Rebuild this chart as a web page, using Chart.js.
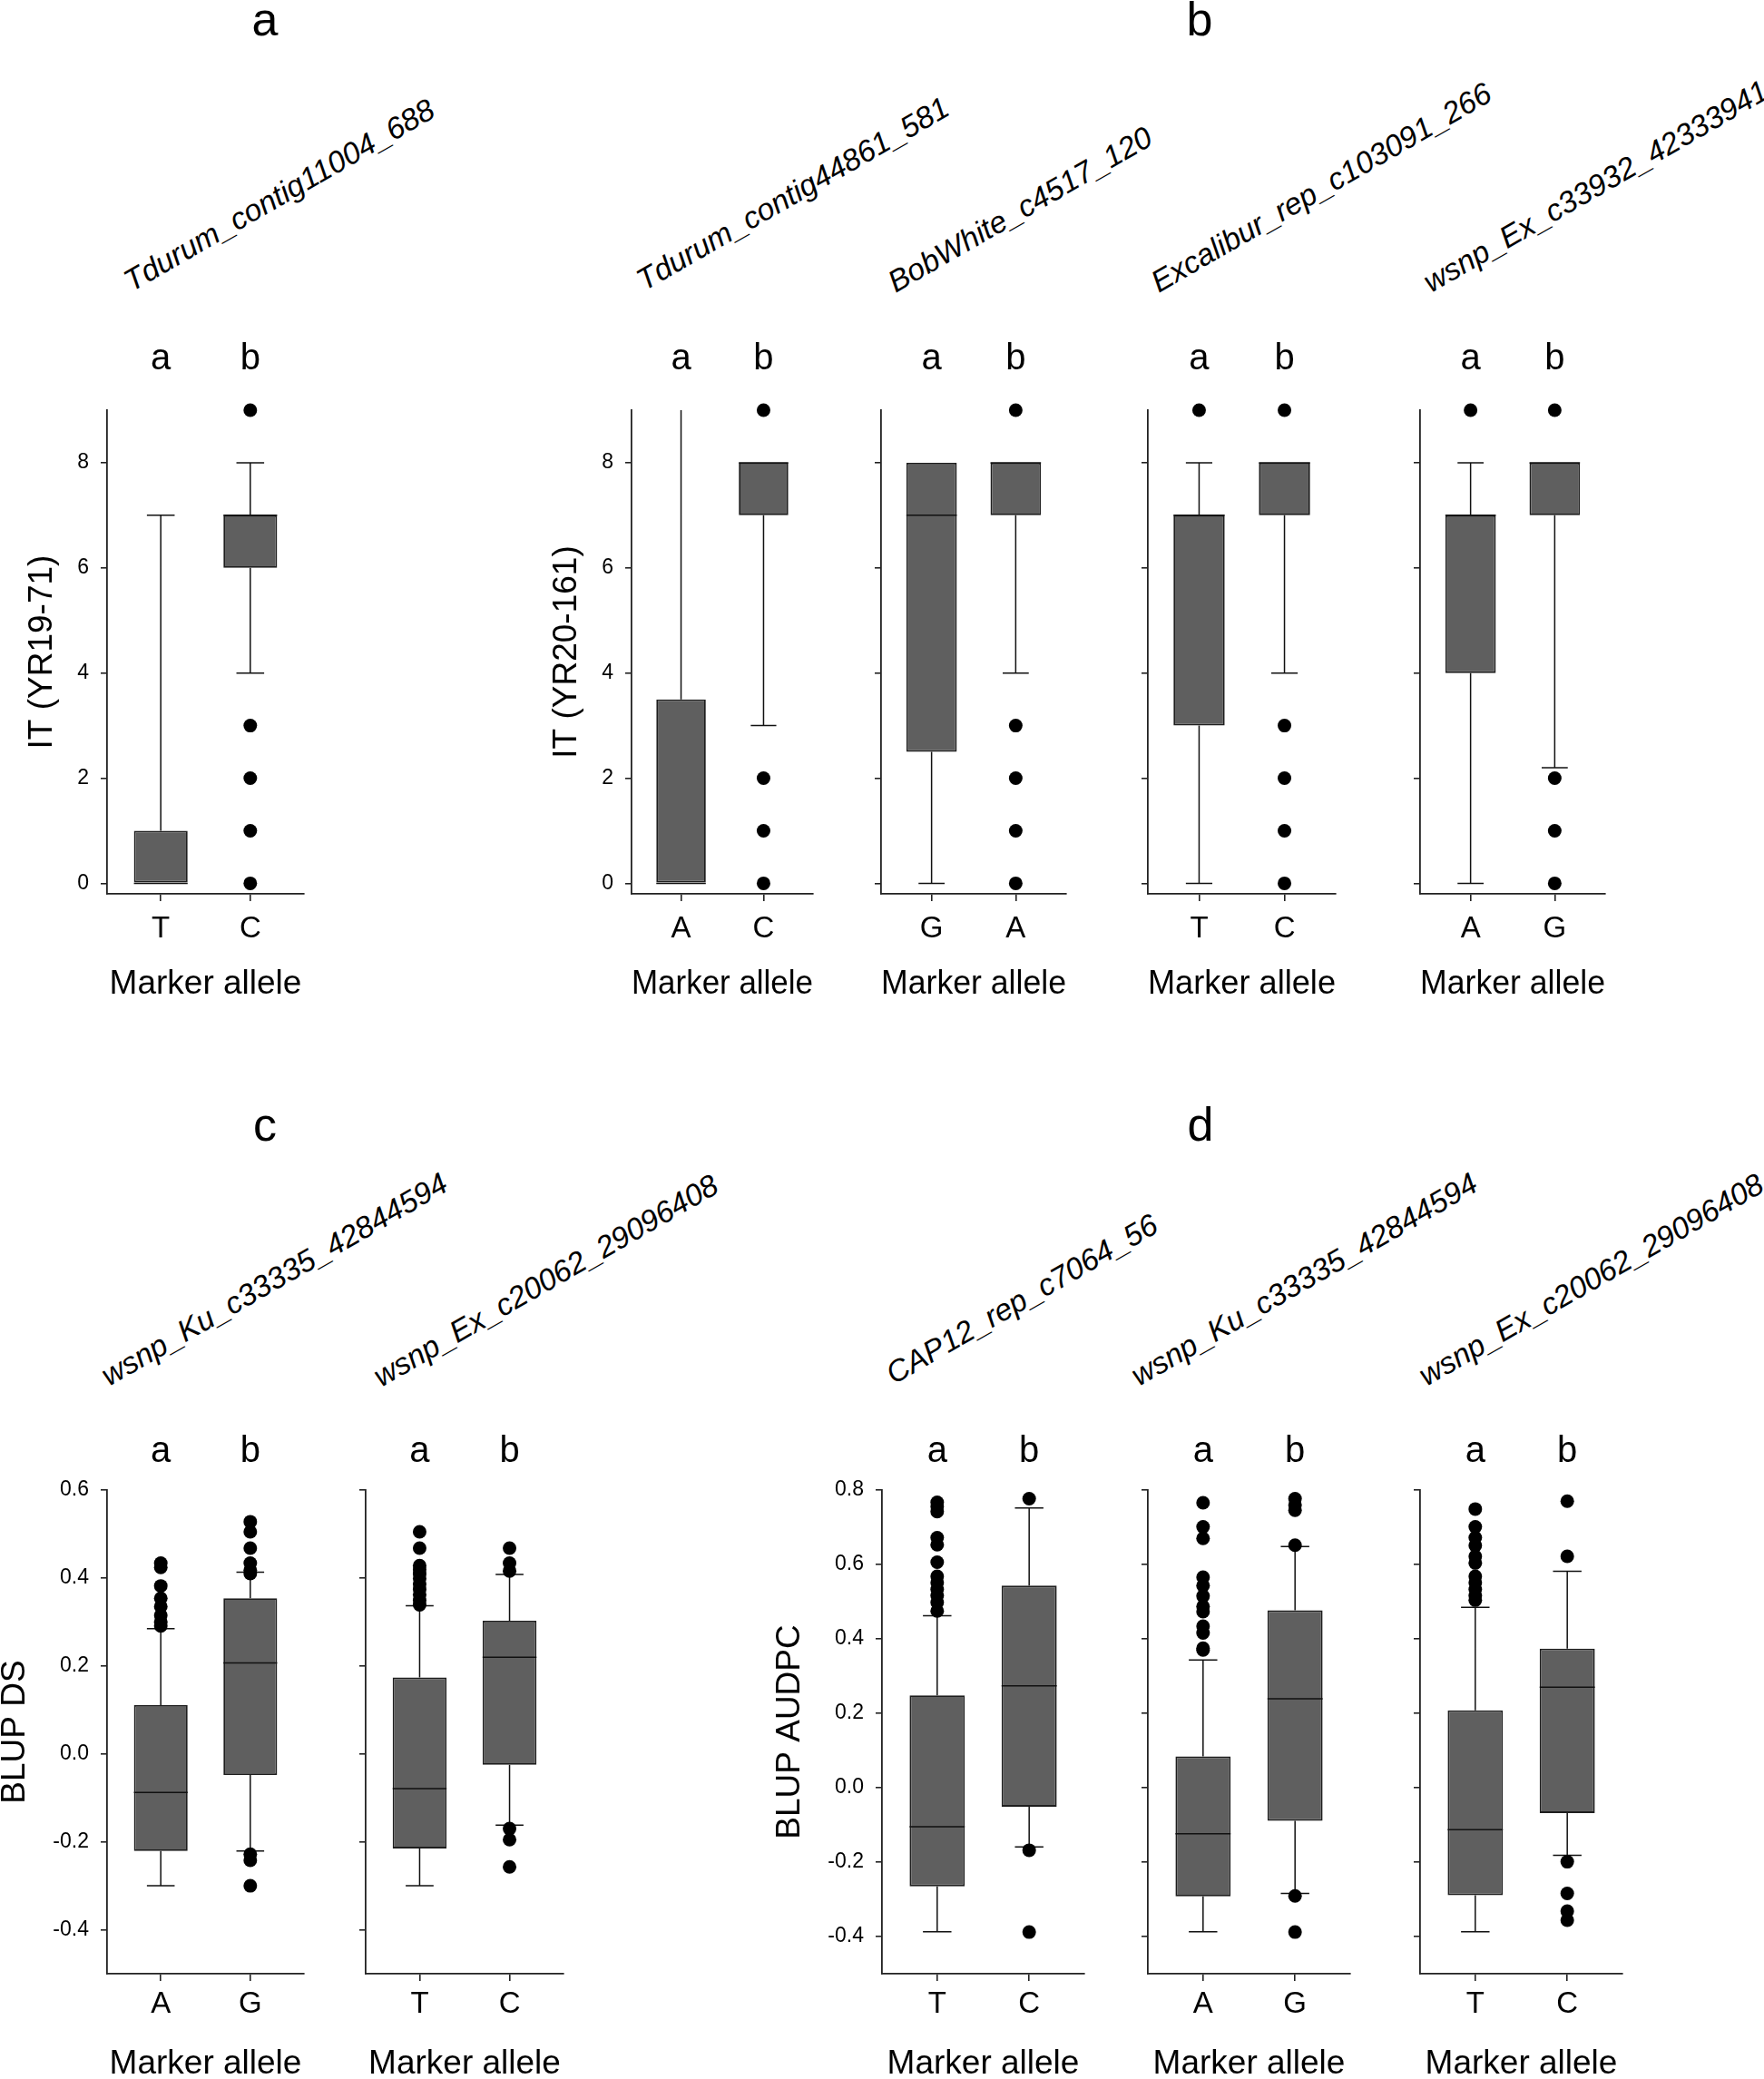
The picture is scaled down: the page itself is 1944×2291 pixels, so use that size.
<!DOCTYPE html>
<html>
<head>
<meta charset="utf-8">
<script src="https://cdn.jsdelivr.net/npm/chart.js@4.4.1/dist/chart.umd.min.js"></script>
<style>
html,body{margin:0;padding:0;background:#fff;overflow:hidden;width:1944px;height:2291px;}
#page{position:relative;width:1944px;height:2291px;overflow:hidden;background:#fff;}
#page canvas{position:absolute;}
#labels{position:absolute;left:0;top:0;}
</style>
</head>
<body>
<div id="page"><svg id="labels" width="1944" height="2291" xmlns="http://www.w3.org/2000/svg"></svg></div>
<script>
// ---------------- DATA ----------------
const figureLetters = ['a', 'b', 'c', 'd'];
const panelMarkers = [
  'Tdurum_contig11004_688', 'Tdurum_contig44861_581', 'BobWhite_c4517_120',
  'Excalibur_rep_c103091_266', 'wsnp_Ex_c33932_42333941',
  'wsnp_Ku_c33335_42844594', 'wsnp_Ex_c20062_29096408',
  'CAP12_rep_c7064_56', 'wsnp_Ku_c33335_42844594', 'wsnp_Ex_c20062_29096408'
];
const panelAlleles = [
  ['T', 'C'], ['A', 'C'], ['G', 'A'], ['T', 'C'], ['A', 'G'],
  ['A', 'G'], ['T', 'C'],
  ['T', 'C'], ['A', 'G'], ['T', 'C']
];
const sigLetters = ['a', 'b'];
const yTitles = ['IT (YR19-71)', 'IT (YR20-161)', '', '', '', 'BLUP DS', '', 'BLUP AUDPC', '', ''];
const xAxisTitle = 'Marker allele';

const q1Values = [
  [0, 6], [0, 7], [2.5, 7], [3, 7], [4, 7],
  [-0.221, -0.048], [-0.215, -0.025],
  [-0.265, -0.051], [-0.292, -0.089], [-0.289, -0.068]
];
const medianValues = [
  [0, 7], [0, 8], [7, 8], [7, 8], [7, 8],
  [-0.088, 0.207], [-0.079, 0.220],
  [-0.105, 0.274], [-0.124, 0.239], [-0.113, 0.270]
];
const q3Values = [
  [1, 7], [3.5, 8], [8, 8], [7, 8], [7, 8],
  [0.111, 0.354], [0.174, 0.303],
  [0.248, 0.543], [0.084, 0.477], [0.208, 0.374]
];
const whiskerLow = [
  [0, 4], [0, 3], [0, 4], [0, 4], [0, 2.2],
  [-0.300, -0.221], [-0.300, -0.162],
  [-0.387, -0.159], [-0.387, -0.284], [-0.387, -0.182]
];
const whiskerHigh = [
  [7, 8], [9, 8], [8, 8], [8, 8], [8, 8],
  [0.285, 0.413], [0.337, 0.408],
  [0.462, 0.752], [0.343, 0.648], [0.485, 0.582]
];
const outlierValues = [
  [[], [9, 3, 2, 1, 0]],
  [[], [9, 2, 1, 0]],
  [[], [9, 3, 2, 1, 0]],
  [[9], [9, 3, 2, 1, 0]],
  [[9], [9, 2, 1, 0]],
  [[0.434, 0.424, 0.382, 0.354, 0.335, 0.315, 0.300, 0.291],
   [0.528, 0.505, 0.468, 0.434, 0.418, 0.410, -0.228, -0.242, -0.300]],
  [[0.505, 0.468, 0.428, 0.419, 0.409, 0.399, 0.386, 0.374, 0.362, 0.349, 0.339],
   [0.468, 0.434, 0.416, -0.170, -0.195, -0.257]],
  [[0.767, 0.756, 0.742, 0.672, 0.653, 0.606, 0.568, 0.551, 0.533, 0.516, 0.498, 0.475],
   [0.777, -0.168, -0.388]],
  [[0.766, 0.701, 0.670, 0.566, 0.543, 0.515, 0.487, 0.473, 0.434, 0.416, 0.375, 0.370],
   [0.777, 0.760, 0.746, 0.652, -0.291, -0.388]],
  [[0.749, 0.701, 0.672, 0.651, 0.622, 0.604, 0.568, 0.551, 0.533, 0.516, 0.504],
   [0.770, 0.622, -0.199, -0.284, -0.332, -0.356]]
];
const yTickSets = [[0, 2, 4, 6, 8], [-0.4, -0.2, 0, 0.2, 0.4, 0.6], [-0.4, -0.2, 0, 0.2, 0.4, 0.6, 0.8]];
const yRanges = [[-0.2, 9], [-0.5, 0.6], [-0.5, 0.8]];
const xRange = [0.4, 2.6];

// ---------------- LAYOUT / STYLE ----------------
const FONT = "'Liberation Sans', Arial, Helvetica, sans-serif";
const BOX_HALF = 0.3, CAP_HALF = 0.155;
const L = 140, R = 12, T = 80, B = 130;
const PANEL_LAYOUT = [
  {left: 117.5, width: 216.5, row: 0, scale: 0, labels: true},
  {left: 696, width: 200, row: 0, scale: 0, labels: true},
  {left: 971, width: 204, row: 0, scale: 0, labels: false},
  {left: 1265, width: 207, row: 0, scale: 0, labels: false},
  {left: 1565, width: 204, row: 0, scale: 0, labels: false},
  {left: 117.6, width: 217, row: 1, scale: 1, labels: true},
  {left: 403, width: 217.5, row: 1, scale: 1, labels: false},
  {left: 972, width: 222.5, row: 1, scale: 2, labels: true},
  {left: 1264.6, width: 223.4, row: 1, scale: 2, labels: false},
  {left: 1565.3, width: 223, row: 1, scale: 2, labels: false}
];
const ROW_LAYOUT = [
  {top: 452, bottom: 984.6, dec: 0, titlePad: 47, catPad: 11, sigOffset: 45},
  {top: 1641.5, bottom: 2174, dec: 1, titlePad: 17, catPad: 6, sigOffset: 31.5}
];
const MARKER_POS = [[145, 322], [710, 321], [987, 323], [1277, 323], [1577, 323],
                    [120, 1528], [420, 1529], [985, 1526], [1255, 1528], [1572, 1528]];
const LETTER_POS = [[292, 39], [1322, 39], [292, 1257], [1323, 1257]];

Chart.defaults.font.family = FONT;
Chart.defaults.color = '#000';

const sigPlugin = {
  id: 'sigLetters',
  afterDraw(chart, args, opts) {
    const {ctx, chartArea, scales} = chart;
    ctx.save();
    ctx.font = '40px ' + FONT;
    ctx.fillStyle = '#000';
    ctx.textAlign = 'center';
    ctx.textBaseline = 'alphabetic';
    sigLetters.forEach((s, k) => {
      ctx.fillText(s, scales.x.getPixelForValue(k + 1), chartArea.top - opts.offset);
    });
    ctx.restore();
  }
};

function whiskerData(i, yMax) {
  const pts = [];
  for (let k = 0; k < 2; k++) {
    const x = k + 1;
    const lo = whiskerLow[i][k], hi = whiskerHigh[i][k];
    const a = q1Values[i][k], b = q3Values[i][k];
    if (hi > b) {
      pts.push({x, y: b}, {x, y: hi}, {x, y: null});
      if (hi < yMax) pts.push({x: x - CAP_HALF, y: hi}, {x: x + CAP_HALF, y: hi}, {x, y: null});
    }
    if (lo < a) {
      pts.push({x, y: a}, {x, y: lo}, {x, y: null});
      pts.push({x: x - CAP_HALF, y: lo}, {x: x + CAP_HALF, y: lo}, {x, y: null});
    }
  }
  return pts;
}

function medianData(i) {
  const pts = [];
  for (let k = 0; k < 2; k++) {
    const x = k + 1, m = medianValues[i][k];
    pts.push({x: x - BOX_HALF, y: m}, {x: x + BOX_HALF, y: m}, {x, y: null});
  }
  return pts;
}

function outlierData(i) {
  const pts = [];
  for (let k = 0; k < 2; k++) outlierValues[i][k].forEach(v => pts.push({x: k + 1, y: v}));
  return pts;
}

const page = document.getElementById('page');

PANEL_LAYOUT.forEach((lay, i) => {
  const row = ROW_LAYOUT[lay.row];
  const yr = yRanges[lay.scale];
  const ticks = yTickSets[lay.scale];
  const cLeft = Math.round(lay.left - L);
  const cTop = Math.round(row.top - T);
  const cw = Math.round(L + lay.width + R);
  const ch = Math.round(T + (row.bottom - row.top) + B);
  const canvas = document.createElement('canvas');
  canvas.width = cw; canvas.height = ch;
  canvas.style.left = cLeft + 'px';
  canvas.style.top = cTop + 'px';
  canvas.style.width = cw + 'px';
  canvas.style.height = ch + 'px';
  page.appendChild(canvas);

  new Chart(canvas, {
    type: 'scatter',
    data: {
      datasets: [
        {
          type: 'bar', order: 3,
          data: [0, 1].map(k => ({x: k + 1, y: [q1Values[i][k], q3Values[i][k]]})),
          backgroundColor: '#5f5f5f', borderColor: '#1e1e1e', borderWidth: 1.8,
          borderSkipped: false, barPercentage: BOX_HALF * 2, categoryPercentage: 1, clip: false
        },
        {
          type: 'line', order: 4, data: whiskerData(i, yr[1]),
          borderColor: '#111', borderWidth: 1.5, pointRadius: 0, spanGaps: false, tension: 0, fill: false, clip: false
        },
        {
          type: 'line', order: 2, data: medianData(i),
          borderColor: '#111', borderWidth: 1.5, pointRadius: 0, spanGaps: false, tension: 0, fill: false, clip: false
        },
        {
          type: 'scatter', order: 1, data: outlierData(i),
          pointRadius: 7.5, pointBackgroundColor: '#000', pointBorderWidth: 0, pointHoverRadius: 7.5, clip: false
        }
      ]
    },
    options: {
      responsive: false,
      animation: false,
      devicePixelRatio: 1,
      events: [],
      layout: {padding: {left: 0, top: T, right: R, bottom: 0}},
      plugins: {legend: {display: false}, tooltip: {enabled: false}, sigLetters: {offset: row.sigOffset}},
      scales: {
        x: {
          type: 'linear', position: 'bottom', min: xRange[0], max: xRange[1], offset: false,
          afterBuildTicks: s => { s.ticks = [{value: 1}, {value: 2}]; },
          afterFit: s => { s.height = B; },
          ticks: {
            callback: v => panelAlleles[i][Math.round(v) - 1],
            font: {size: 33}, color: '#000', padding: row.catPad, maxRotation: 0, autoSkip: false
          },
          grid: {display: true, drawOnChartArea: false, drawTicks: true, tickLength: 8, color: '#222', lineWidth: 1.6, offset: false},
          border: {display: true, color: '#222', width: 1.8},
          title: {display: true, text: xAxisTitle, font: {size: 37}, color: '#000', padding: {top: 0, bottom: 8}}
        },
        y: {
          type: 'linear', position: 'left', min: yr[0], max: yr[1],
          afterBuildTicks: s => { s.ticks = ticks.map(v => ({value: v})); },
          afterFit: s => { s.width = L; },
          ticks: {
            display: lay.labels,
            callback: v => Number(v).toFixed(row.dec),
            font: {size: 23}, color: '#000', padding: 13, autoSkip: false
          },
          grid: {display: true, drawOnChartArea: false, drawTicks: true, tickLength: 7, color: '#222', lineWidth: 1.6},
          border: {display: true, color: '#222', width: 1.8},
          title: {display: !!yTitles[i], text: yTitles[i], font: {size: 37}, color: '#000', padding: {top: row.titlePad, bottom: 0}}
        }
      }
    },
    plugins: [sigPlugin]
  });
});

// Marker names and figure letters (real SVG text)
const svg = document.getElementById('labels');
const NS = 'http://www.w3.org/2000/svg';
panelMarkers.forEach((name, i) => {
  const [x, y] = MARKER_POS[i];
  const t = document.createElementNS(NS, 'text');
  t.setAttribute('x', x); t.setAttribute('y', y);
  t.setAttribute('font-family', FONT);
  t.setAttribute('font-size', '33.5');
  t.setAttribute('font-style', 'italic');
  t.setAttribute('fill', '#000');
  t.setAttribute('transform', `rotate(-30 ${x} ${y})`);
  t.textContent = name;
  svg.appendChild(t);
});
figureLetters.forEach((s, i) => {
  const [x, y] = LETTER_POS[i];
  const t = document.createElementNS(NS, 'text');
  t.setAttribute('x', x); t.setAttribute('y', y);
  t.setAttribute('font-family', FONT);
  t.setAttribute('font-size', '52');
  t.setAttribute('text-anchor', 'middle');
  t.setAttribute('fill', '#000');
  t.textContent = s;
  svg.appendChild(t);
});
</script>
</body>
</html>
